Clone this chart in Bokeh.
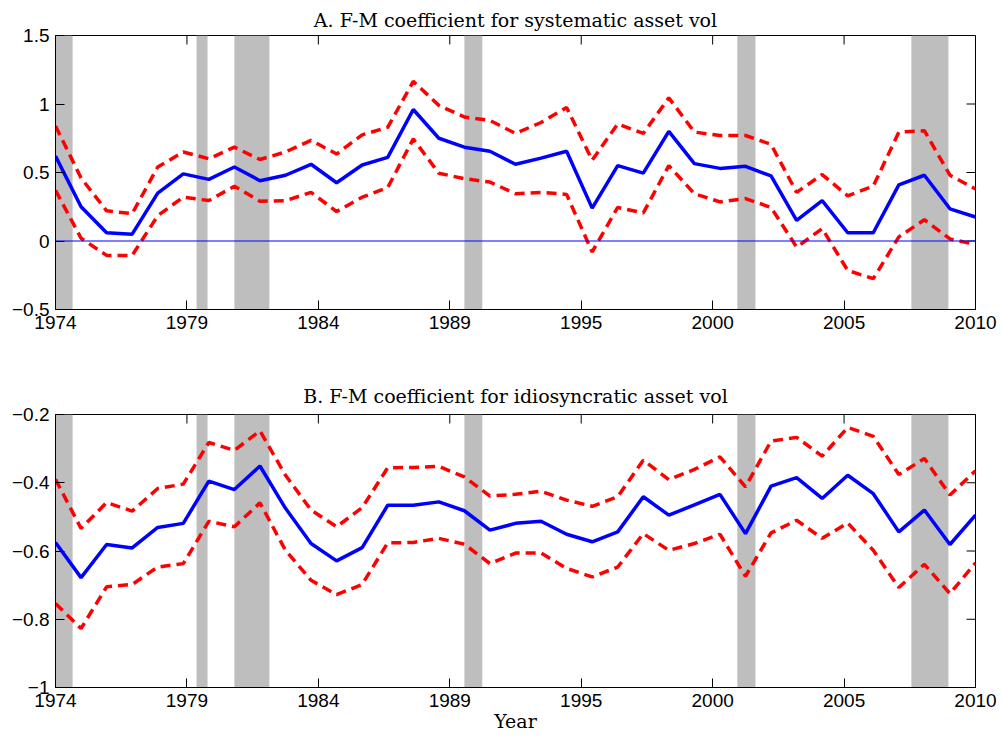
import math
from bokeh.plotting import figure
from bokeh.layouts import column
from bokeh.models import BoxAnnotation, FixedTicker, Range1d, Span
from bokeh.embed import file_html
from bokeh.resources import INLINE

years = list(range(1974, 2011))

sys_coef = [0.62, 0.25, 0.06, 0.05, 0.35, 0.49, 0.45, 0.54, 0.44, 0.48, 0.56, 0.425,
            0.555, 0.61, 0.96, 0.75, 0.685, 0.655, 0.56, 0.605, 0.655, 0.24, 0.55, 0.495,
            0.80, 0.565, 0.53, 0.545, 0.475, 0.15, 0.295, 0.06, 0.06, 0.41, 0.48, 0.235, 0.175]
sys_upper = [0.84, 0.46, 0.22, 0.20, 0.54, 0.65, 0.60, 0.685, 0.595, 0.65, 0.735, 0.635,
             0.775, 0.83, 1.165, 0.99, 0.905, 0.88, 0.785, 0.865, 0.975, 0.59, 0.855, 0.785,
             1.045, 0.795, 0.77, 0.77, 0.705, 0.355, 0.485, 0.33, 0.40, 0.795, 0.805, 0.48, 0.38]
sys_lower = [0.37, 0.02, -0.105, -0.105, 0.185, 0.32, 0.295, 0.40, 0.29, 0.295, 0.355, 0.215,
             0.32, 0.39, 0.745, 0.495, 0.455, 0.43, 0.345, 0.355, 0.34, -0.08, 0.245, 0.205,
             0.55, 0.345, 0.285, 0.31, 0.245, -0.045, 0.09, -0.215, -0.275, 0.03, 0.155, 0.015, -0.025]

idio_coef = [-0.575, -0.678, -0.581, -0.591, -0.531, -0.519, -0.395, -0.42, -0.351, -0.475, -0.578, -0.629,
             -0.59, -0.466, -0.466, -0.456, -0.482, -0.539, -0.519, -0.513, -0.551, -0.573, -0.544, -0.441,
             -0.495, -0.465, -0.434, -0.549, -0.41, -0.385, -0.446, -0.378, -0.432, -0.544, -0.48, -0.581, -0.495]
idio_upper = [-0.39, -0.534, -0.458, -0.483, -0.417, -0.404, -0.282, -0.305, -0.248, -0.378, -0.48, -0.529,
              -0.473, -0.356, -0.355, -0.352, -0.383, -0.439, -0.434, -0.425, -0.451, -0.469, -0.441, -0.334,
              -0.391, -0.361, -0.324, -0.412, -0.278, -0.267, -0.322, -0.238, -0.264, -0.376, -0.329, -0.436, -0.365]
idio_lower = [-0.754, -0.827, -0.705, -0.698, -0.647, -0.637, -0.513, -0.529, -0.459, -0.598, -0.686, -0.728,
              -0.698, -0.576, -0.575, -0.563, -0.58, -0.637, -0.606, -0.606, -0.651, -0.676, -0.647, -0.549,
              -0.598, -0.578, -0.551, -0.674, -0.547, -0.51, -0.563, -0.518, -0.598, -0.707, -0.639, -0.725, -0.635]

rec_start = [1974.0, 1979.52, 1981.0, 1990.0, 2000.68, 2007.49]
rec_end = [1974.67, 1979.95, 1982.37, 1990.7, 2001.39, 2008.94]

x_ticks = [1974 + i * 36 / 7 for i in range(8)]
x_labels = ["1974", "1979", "1984", "1989", "1995", "2000", "2005", "2010"]

top_yticks = [-0.5, 0, 0.5, 1, 1.5]
top_ylabels = ["\u22120.5", "0", "0.5", "1", "1.5"]
bot_yticks = [-1, -0.8, -0.6, -0.4, -0.2]
bot_ylabels = ["\u22121", "\u22120.8", "\u22120.6", "\u22120.4", "\u22120.2"]

titles = ["A. F-M coefficient for systematic asset vol",
          "B. F-M coefficient for idiosyncratic asset vol"]

SANS = "Liberation Sans"
SERIF = "DejaVu Serif"
TICK = 9


def style_axis(ax, ticks, labels):
    ax.ticker = FixedTicker(ticks=ticks)
    ax.minor_tick_line_color = None
    ax.major_tick_in = TICK
    ax.major_tick_out = 0
    ax.axis_line_color = "black"
    ax.major_tick_line_color = "black"
    ax.major_label_overrides = {t: l for t, l in zip(ticks, labels)}
    ax.major_label_text_font = SANS
    ax.major_label_text_font_size = "19px"
    ax.major_label_text_color = "black"
    ax.major_label_standoff = 6


def panel(title, coef, upper, lower, ylim, yticks, ylabels, height, btop, bbottom, zero,
          title_standoff, xlabel=None):
    p = figure(width=1000, height=height, x_range=Range1d(1974, 2010), y_range=Range1d(*ylim),
               output_backend="svg", toolbar_location=None,
               min_border_left=55, min_border_right=25, min_border_top=btop, min_border_bottom=bbottom)
    p.title.text = title
    p.title.text_font = SERIF
    p.title.text_font_size = "19px"
    p.title.text_font_style = "normal"
    p.title.align = "center"
    p.title.text_color = "black"
    p.title.standoff = title_standoff
    p.xgrid.visible = False
    p.ygrid.visible = False
    p.outline_line_color = "black"
    p.outline_line_alpha = 1

    xax = p.xaxis[0]
    style_axis(xax, x_ticks, x_labels)
    style_axis(p.yaxis[0], yticks, ylabels)

    for s, e in zip(rec_start, rec_end):
        p.add_layout(BoxAnnotation(left=s, right=e, fill_color="#bebebe", fill_alpha=1,
                                   line_alpha=0, level="underlay"))
    if zero:
        p.add_layout(Span(location=0, dimension="width", line_color="#0000ff", line_width=1))

    # mirrored tick marks on the top and right edges of the box
    p.scatter(x_ticks, [ylim[1]] * len(x_ticks), marker="dash", size=2 * TICK,
              angle=math.pi / 2, line_color="black", line_width=1)
    p.scatter([2010] * len(yticks), yticks, marker="dash", size=2 * TICK,
              line_color="black", line_width=1)

    p.line(years, upper, line_color="#ff0000", line_width=3.5, line_dash="10 6")
    p.line(years, lower, line_color="#ff0000", line_width=3.5, line_dash="10 6")
    p.line(years, coef, line_color="#0000ff", line_width=3.5)

    if xlabel:
        xax.axis_label = xlabel
        xax.axis_label_text_font = SERIF
        xax.axis_label_text_font_size = "19px"
        xax.axis_label_text_font_style = "normal"
        xax.axis_label_text_color = "black"
        xax.axis_label_standoff = 0
    return p


p1 = panel(titles[0], sys_coef, sys_upper, sys_lower, (-0.5, 1.5), top_yticks, top_ylabels,
           355, 35, 46, True, 9)
p2 = panel(titles[1], idio_coef, idio_upper, idio_lower, (-1, -0.2), bot_yticks, bot_ylabels,
           383, 59, 51, False, 15, xlabel="Year")

layout = column(p1, p2, spacing=0)
open("out.html", "w").write(file_html(layout, INLINE))
